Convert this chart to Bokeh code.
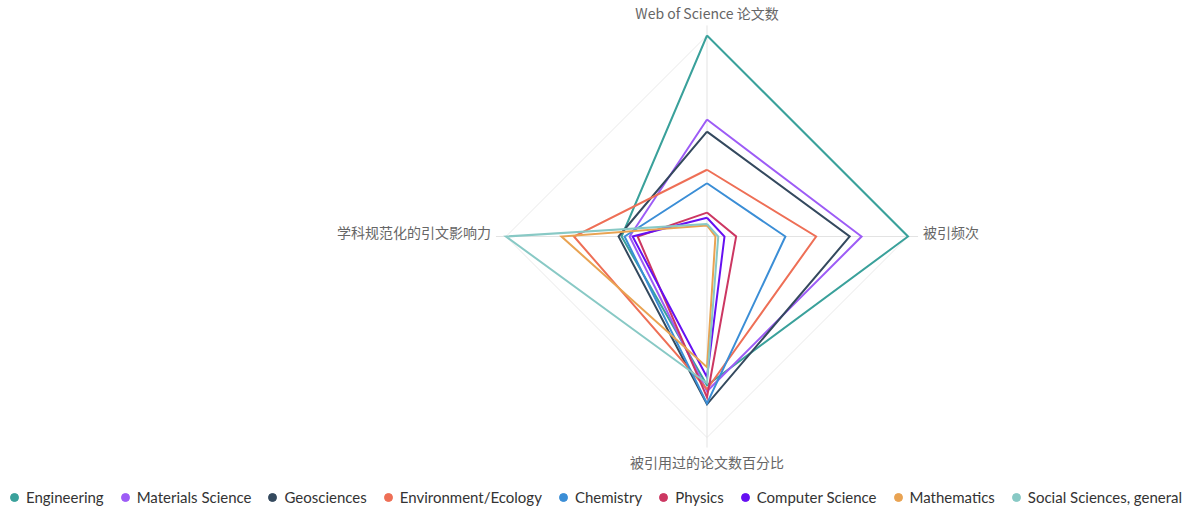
import numpy as np
from bokeh.plotting import figure
from bokeh.models import Range1d, Legend, LegendItem
from bokeh.core.properties import value
from bokeh.embed import file_html
from bokeh.resources import INLINE

# Radar axes (clockwise from top)
axis_labels = ["Web of Science 论文数", "被引频次", "被引用过的论文数百分比", "学科规范化的引文影响力"]

categories = ["Engineering", "Materials Science", "Geosciences", "Environment/Ecology",
              "Chemistry", "Physics", "Computer Science", "Mathematics",
              "Social Sciences, general"]

colors = ["#3aa19b", "#9d5cf6", "#34495e", "#ee6f56", "#3b8ed6",
          "#cc3762", "#6610f2", "#e9a352", "#88c9c5"]

# normalized scores per axis (0..1): [papers, citations, % cited, CNCI]
engineering = [1.00, 1.00, 0.74, 0.425]
materials_science = [0.582, 0.769, 0.77, 0.385]
geosciences = [0.522, 0.71, 0.835, 0.44]
environment_ecology = [0.332, 0.543, 0.76, 0.662]
chemistry = [0.265, 0.39, 0.83, 0.41]
physics = [0.119, 0.145, 0.80, 0.345]
computer_science = [0.093, 0.087, 0.70, 0.37]
mathematics = [0.055, 0.042, 0.65, 0.724]
social_sciences = [0.062, 0.056, 0.73, 1.00]

series = [engineering, materials_science, geosciences, environment_ecology, chemistry,
          physics, computer_science, mathematics, social_sciences]

W, H = 1198, 508
R = 201.0
cx, cy = 706.5, 236.0

p = figure(width=W, height=H, output_backend="svg", toolbar_location=None,
           x_axis_type=None, y_axis_type=None, min_border=0,
           x_range=Range1d(-cx / R, (W - cx) / R),
           y_range=Range1d(-(H - cy) / R, cy / R))
p.grid.visible = False
p.outline_line_color = None
p.background_fill_color = "white"

n = len(axis_labels)
ang = np.pi / 2 - np.arange(n) * 2 * np.pi / n
ca, sa = np.cos(ang), np.sin(ang)

# grid diamond and axis lines
p.line(np.append(ca, ca[0]), np.append(sa, sa[0]), line_color="#e9e9e9", line_width=1)
for k in range(n):
    p.line([0, 1.05 * ca[k]], [0, 1.05 * sa[k]], line_color="#e3e3e3", line_width=1)

items = []
for name, vals, col in zip(categories, series, colors):
    v = np.array(vals)
    xs = v * ca
    ys = v * sa
    p.line(np.append(xs, xs[0]), np.append(ys, ys[0]), line_color=col, line_width=2,
           line_join="miter")
    sr = p.scatter(xs, ys, size=0, marker="circle", fill_color=col, line_color=col)
    items.append(LegendItem(label=name, renderers=[sr]))

# axis labels
lab_x = [0, 1.075, 0, -1.075]
lab_y = [1.114, 0.02, -1.12, 0.02]
aligns = ["center", "left", "center", "right"]
for t, x, y, a in zip(axis_labels, lab_x, lab_y, aligns):
    p.text([x], [y], text=[t], text_align=a, text_baseline="middle",
           text_font=value("Noto Sans CJK SC"), text_font_size="14px", text_color="#666666")

legend = Legend(items=items, orientation="horizontal", location=(4, 0),
                glyph_width=20, glyph_height=22, label_standoff=2, spacing=11,
                padding=0, margin=0, border_line_color=None, background_fill_alpha=0,
                label_text_font="Lato", label_text_font_size="15px",
                label_text_color="#333333")
p.add_layout(legend, "center")

open("out.html", "w").write(file_html(p, INLINE))
